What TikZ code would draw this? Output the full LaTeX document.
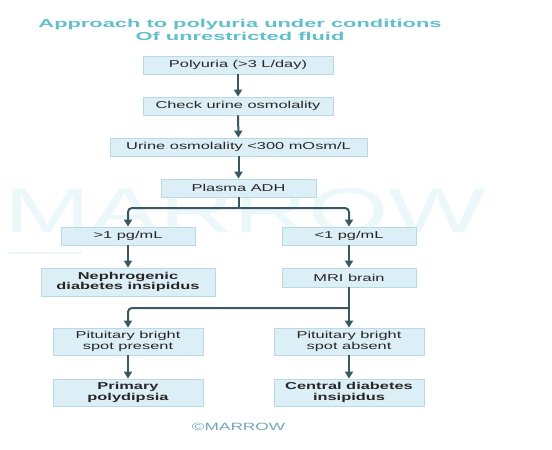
\documentclass[tikz,border=0pt]{standalone}
\usepackage{fontspec}
\setmainfont{Liberation Sans}[FakeStretch=1.64]
\newfontfamily\titlefont{Liberation Sans}[FakeStretch=1.9]
\usetikzlibrary{arrows.meta}
\definecolor{boxfill}{RGB}{221,239,246}
\definecolor{boxline}{RGB}{185,217,228}
\definecolor{arrcol}{RGB}{58,88,98}
\definecolor{titlecol}{RGB}{98,192,204}
\definecolor{wmcol}{RGB}{236,247,250}
\definecolor{copycol}{RGB}{112,168,184}
\tikzset{
  box/.style={draw=boxline, fill=boxfill, line width=0.8pt, inner sep=1pt,
    align=center, font=\fontsize{10}{10.5}\selectfont, text=black!85},
  arr/.style={draw=arrcol, line width=2pt, rounded corners=4pt,
    -{Triangle[length=7pt,width=8pt]}},
  ln/.style={draw=arrcol, line width=2pt, rounded corners=4pt}
}
\begin{document}
\begin{tikzpicture}[x=1pt,y=-1pt]
\useasboundingbox (0,0) rectangle (552,450);
\fill[white] (0,0) rectangle (552,450);
% watermark
\node[text=wmcol, font=\fontsize{63}{63}\selectfont, inner sep=0pt, anchor=base west] (wm) at (4,232) {MARROW};
\draw[wmcol, line width=1.5pt] (8,253) -- (82,253);
% title
\node[text=titlecol, font=\titlefont\bfseries\fontsize{11.5}{12.5}\selectfont, align=center, inner sep=0pt] (title) at (240,30) {Approach to polyuria under conditions\\Of unrestricted fluid};
% boxes
\node[box, minimum width=190pt, minimum height=18pt] (p1) at (238,65) {Polyuria (>3 L/day)};
\node[box, minimum width=190pt, minimum height=18pt] (p2) at (238,106) {Check urine osmolality};
\node[box, minimum width=257pt, minimum height=18pt] (p3) at (238.5,147) {Urine osmolality <300 mOsm/L};
\node[box, minimum width=155pt, minimum height=18pt] (p4) at (238.5,188) {Plasma ADH};
\node[box, minimum width=134pt, minimum height=18pt] (g1) at (128,236) {>1 pg/mL};
\node[box, minimum width=134pt, minimum height=18pt] (l1) at (349,236) {<1 pg/mL};
\node[box, minimum width=174pt, minimum height=28pt, font=\bfseries\fontsize{10}{10.5}\selectfont] (neph) at (128,282) {Nephrogenic\\diabetes insipidus};
\node[box, minimum width=134pt, minimum height=19pt] (mri) at (349,277.5) {MRI brain};
\node[box, minimum width=150pt, minimum height=27pt] (pp) at (128,341.5) {Pituitary bright\\spot present};
\node[box, minimum width=150pt, minimum height=27pt] (pa) at (349,341.5) {Pituitary bright\\spot absent};
\node[box, minimum width=150pt, minimum height=27pt, font=\bfseries\fontsize{10}{10.5}\selectfont] (prim) at (128,392.5) {Primary\\polydipsia};
\node[box, minimum width=150pt, minimum height=27pt, font=\bfseries\fontsize{10}{10.5}\selectfont] (cdi) at (349,392.5) {Central diabetes\\insipidus};
% copyright
\node[text=copycol, font=\fontsize{10.5}{11}\selectfont, inner sep=0pt] (copy) at (238.5,427) {\textcopyright MARROW};
% connectors
\draw[arr] (p1) -- (p2);
\draw[arr] (p2) -- (p3);
\draw[arr] (p3) -- (p4);
\coordinate (b1) at (238.5,208);
\draw[ln] (p4.south) -- (b1);
\draw[arr] (b1) -| (g1.north);
\draw[arr] (b1) -| (l1.north);
\draw[arr] (g1) -- (neph);
\draw[arr] (l1) -- (mri);
\coordinate (b2) at (349,308);
\draw[arr] (mri.south) -- (pa.north);
\draw[arr] (b2) -| (pp.north);
\draw[arr] (pp) -- (prim);
\draw[arr] (pa) -- (cdi);
\end{tikzpicture}
\end{document}
